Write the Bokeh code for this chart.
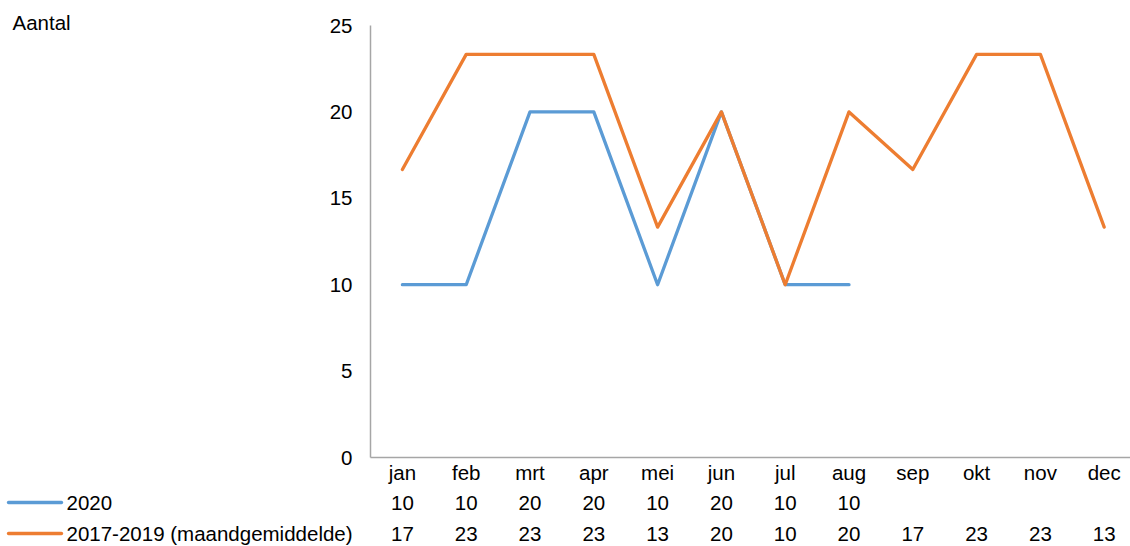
from bokeh.plotting import figure
from bokeh.models import Range1d
from bokeh.core.properties import value
from bokeh.embed import file_html
from bokeh.resources import INLINE

months = ["jan", "feb", "mrt", "apr", "mei", "jun", "jul", "aug", "sep", "okt", "nov", "dec"]
values_2020 = [10, 10, 20, 20, 10, 20, 10, 10]
values_avg = [16.67, 23.33, 23.33, 23.33, 13.33, 20, 10, 20, 16.67, 23.33, 23.33, 13.33]
name_2020 = "2020"
name_avg = "2017-2019 (maandgemiddelde)"
y_ticks = [0, 5, 10, 15, 20, 25]
y_label = "Aantal"

BLUE = "#5B9BD5"
ORANGE = "#ED7D31"
AXIS = "#A6A6A6"
FONT = value("Liberation Sans")
FS = value("20.5px")

W, H = 1130, 546
PX_X = 63.8      # pixels per category
PX_Y = 17.28     # pixels per unit
LEFT = 370       # pixel of x=0
BASE = 457       # pixel of y=0


def sx(px):
    return (px - LEFT) / PX_X


def sy(py):
    return (BASE - py) / PX_Y


p = figure(width=W, height=H, output_backend="svg", toolbar_location=None,
           x_range=Range1d(sx(0), sx(W)), y_range=Range1d(sy(H), sy(0)),
           x_axis_location=None, y_axis_location=None, min_border=0)
p.outline_line_color = None
p.grid.visible = False

n = len(months)
xc = [i + 0.5 for i in range(n)]
y_top = y_ticks[-1]

# axis lines
p.segment(x0=[0, 0], y0=[0, 0], x1=[0, sx(W)], y1=[y_top, 0], line_color=AXIS, line_width=1.5)

# data lines
p.line(xc[:len(values_2020)], values_2020, line_color=BLUE, line_width=3.3,
       line_cap="round", line_join="round")
p.line(xc, values_avg, line_color=ORANGE, line_width=3.3, line_cap="round", line_join="round")

txt = dict(text_font=FONT, text_font_size=FS, text_color="black")

# y tick labels
p.text(x=[sx(352)] * len(y_ticks), y=y_ticks, text=[str(t) for t in y_ticks],
       text_align="right", text_baseline="middle", **txt)

# month labels
p.text(x=xc, y=[sy(472)] * n, text=months, text_align="center", text_baseline="middle", **txt)

# data table rows
r1, r2 = sy(502), sy(533)
p.text(x=xc[:len(values_2020)], y=[r1] * len(values_2020),
       text=[str(int(round(v))) for v in values_2020],
       text_align="center", text_baseline="middle", **txt)
p.text(x=xc, y=[r2] * n, text=[str(int(round(v))) for v in values_avg],
       text_align="center", text_baseline="middle", **txt)

# legend keys
for yy, col, name in ((r1, BLUE, name_2020), (r2, ORANGE, name_avg)):
    p.line([sx(8), sx(61)], [yy, yy], line_color=col, line_width=3.3, line_cap="round")
    p.text(x=[sx(66)], y=[yy], text=[name], text_align="left", text_baseline="middle", **txt)

# unit label
p.text(x=[sx(12)], y=[sy(22)], text=[y_label], text_align="left", text_baseline="middle", **txt)

open("out.html", "w").write(file_html(p, INLINE))
